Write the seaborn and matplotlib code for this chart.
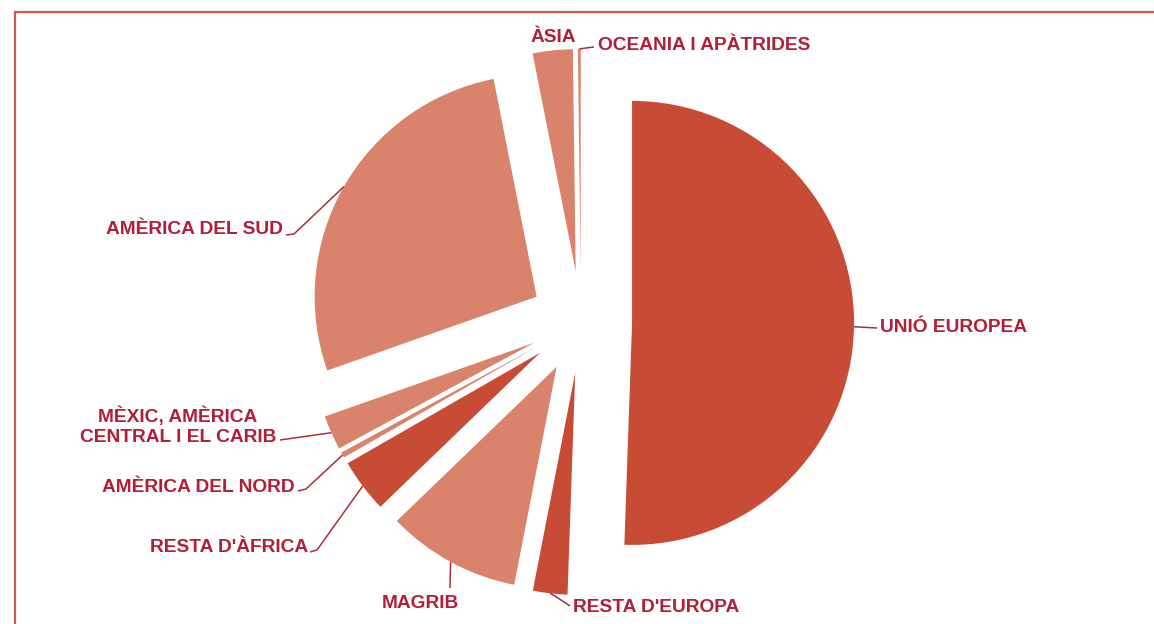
import numpy as np
import matplotlib
matplotlib.use("Agg")
import matplotlib.pyplot as plt
from matplotlib.lines import Line2D
import seaborn as sns

# data (share of foreign population by origin, %)
regions = ["UNIÓ EUROPEA", "RESTA D'EUROPA", "MAGRIB", "RESTA D'ÀFRICA",
           "AMÈRICA DEL NORD", "MÈXIC, AMÈRICA\nCENTRAL I EL CARIB",
           "AMÈRICA DEL SUD", "ÀSIA", "OCEANIA I APÀTRIDES"]
shares = [50.4, 2.5, 9.7, 3.9, 0.4, 2.5, 27.2, 2.9, 0.2]

dark = "#c84b36"
light = "#d9836c"
slice_colors = [dark, dark, light, dark, light, light, light, light, light]

sns.set_theme(style="white")
plt.rcParams['font.family'] = ['Liberation Sans', 'DejaVu Sans']

W, H = 1154, 624
fig = plt.figure(figsize=(W / 100, H / 100), dpi=100)
ax = fig.add_axes([0, 0, 1, 1])

R = 222
# matplotlib applies explode in data units, so scale by the radius
wedges, _ = ax.pie(shares, colors=slice_colors, startangle=90, counterclock=False,
                   explode=[0.23 * R] * len(shares), center=(581, 302), radius=R,
                   wedgeprops=dict(linewidth=0))
ax.set_xlim(0, W)
ax.set_ylim(0, H)
ax.set_aspect('equal')
ax.axis('off')

txt_col = "#b31d35"
line_col = "#a8303a"

# label layout: text position, alignment, leader start points (pixel coords, y up)
layout = {
    "UNIÓ EUROPEA": ((880, 297), "left", [(877, 296)]),
    "RESTA D'EUROPA": ((573, 16), "left", [(570, 18), (555, 28)]),
    "MAGRIB": ((420, 20), "center", [(450, 36)]),
    "RESTA D'ÀFRICA": ((308, 76), "right", [(310, 72), (317, 74)]),
    "AMÈRICA DEL NORD": ((295, 137), "right", [(298, 133), (306, 135)]),
    "MÈXIC, AMÈRICA\nCENTRAL I EL CARIB": ((178, 198), "center", [(280, 184)]),
    "AMÈRICA DEL SUD": ((283, 395), "right", [(286, 389), (294, 390)]),
    "ÀSIA": ((553, 587), "center", None),
    "OCEANIA I APÀTRIDES": ((598, 579), "left", [(594, 577), (586, 576)]),
}

for w, name in zip(wedges, regions):
    (tx, ty), ha, pts = layout[name]
    ax.text(tx, ty, name, ha=ha, va="center", fontsize=13.8, fontweight="bold",
            color=txt_col, linespacing=1.2)
    if pts is None:
        continue
    mid = np.deg2rad((w.theta1 + w.theta2) / 2)
    cx, cy = w.center
    tip = (cx + w.r * np.cos(mid), cy + w.r * np.sin(mid))
    xs = [p[0] for p in pts] + [tip[0]]
    ys = [p[1] for p in pts] + [tip[1]]
    ax.plot(xs, ys, color=line_col, lw=1.1, solid_capstyle="butt")

# thin red frame (top and left)
fx = 15 / W
fy = 1 - 12 / H
fig.add_artist(Line2D([fx, 1], [fy, fy], transform=fig.transFigure, color="#d05a48", lw=1.6))
fig.add_artist(Line2D([fx, fx], [0, fy], transform=fig.transFigure, color="#d05a48", lw=1.6))

fig.savefig("out.png", dpi=100, facecolor="white")
